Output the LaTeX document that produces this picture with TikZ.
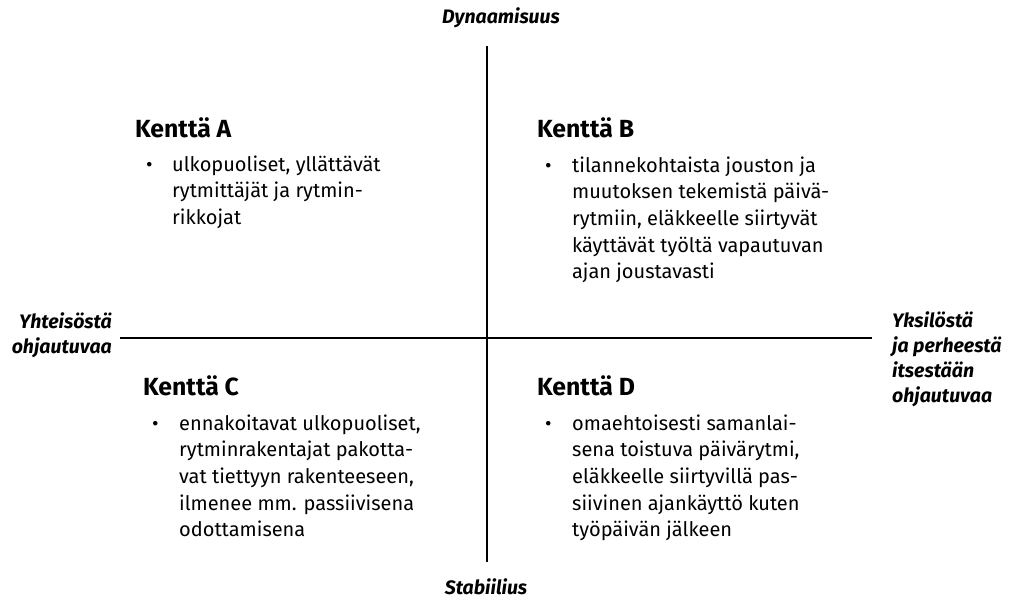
\documentclass[tikz,border=0pt]{standalone}
\usepackage{fontspec}
\setmainfont{Fira Sans}
\begin{document}
\begin{tikzpicture}[x=1pt,y=-1pt,
  axis/.style={line width=2pt},
  title/.style={font=\fontsize{24.8}{29}\selectfont\bfseries,anchor=base west,inner sep=0pt},
  body/.style={font=\fontsize{20}{26.7}\selectfont,anchor=base west,inner sep=0pt},
  axlab/.style={font=\fontsize{19.5}{25}\selectfont\bfseries\itshape,inner sep=0pt}]
\useasboundingbox (0,0) rectangle (1011,600);
% axes
\coordinate (top) at (487,46);
\coordinate (bot) at (487,562);
\coordinate (lft) at (120,338);
\coordinate (rgt) at (872,338);
\draw[axis] (top) -- (bot);
\draw[axis] (lft) -- (rgt);
% axis labels
\node[axlab,anchor=base] (dyn) at (501,23) {Dynaamisuus};
\node[axlab,anchor=base] (stab) at (486,594) {Stabiilius};
\node[axlab,anchor=base east,align=right] (yht) at (112,328)
  {\begin{tabular}[t]{@{}r@{}}Yhteisöstä\\ohjautuvaa\end{tabular}};
\node[axlab,anchor=base west] (yks) at (892,327)
  {\begin{tabular}[t]{@{}l@{}}Yksilöstä\\ja perheestä\\itsestään\\ohjautuvaa\end{tabular}};
% titles
\node[title] (tA) at (135,137) {Kenttä A};
\node[title] (tB) at (537,137) {Kenttä B};
\node[title] (tC) at (143,395) {Kenttä C};
\node[title] (tD) at (537,395) {Kenttä D};
% bodies
\node[body] (bA) at (146,171)
  {\begin{tabular}[t]{@{}l@{}l@{}}\makebox[26pt][l]{\textbullet}&ulkopuoliset, yllättävät\\
   &rytmittäjät ja rytmin-\\&rikkojat\end{tabular}};
\node[body] (bB) at (545,172)
  {\begin{tabular}[t]{@{}l@{}l@{}}\makebox[27pt][l]{\textbullet}&tilannekohtaista jouston ja\\
   &muutoksen tekemistä päivä-\\&rytmiin, eläkkeelle siirtyvät\\
   &käyttävät työltä vapautuvan\\&ajan joustavasti\end{tabular}};
\node[body] (bC) at (152,430)
  {\begin{tabular}[t]{@{}l@{}l@{}}\makebox[27pt][l]{\textbullet}&ennakoitavat ulkopuoliset,\\
   &rytminrakentajat pakotta-\\&vat tiettyyn rakenteeseen,\\
   &ilmenee mm. passiivisena\\&odottamisena\end{tabular}};
\node[body] (bD) at (545,430)
  {\begin{tabular}[t]{@{}l@{}l@{}}\makebox[27pt][l]{\textbullet}&omaehtoisesti samanlai-\\
   &sena toistuva päivärytmi,\\&eläkkeelle siirtyvillä pas-\\
   &siivinen ajankäyttö kuten\\&työpäivän jälkeen\end{tabular}};
\end{tikzpicture}
\end{document}
